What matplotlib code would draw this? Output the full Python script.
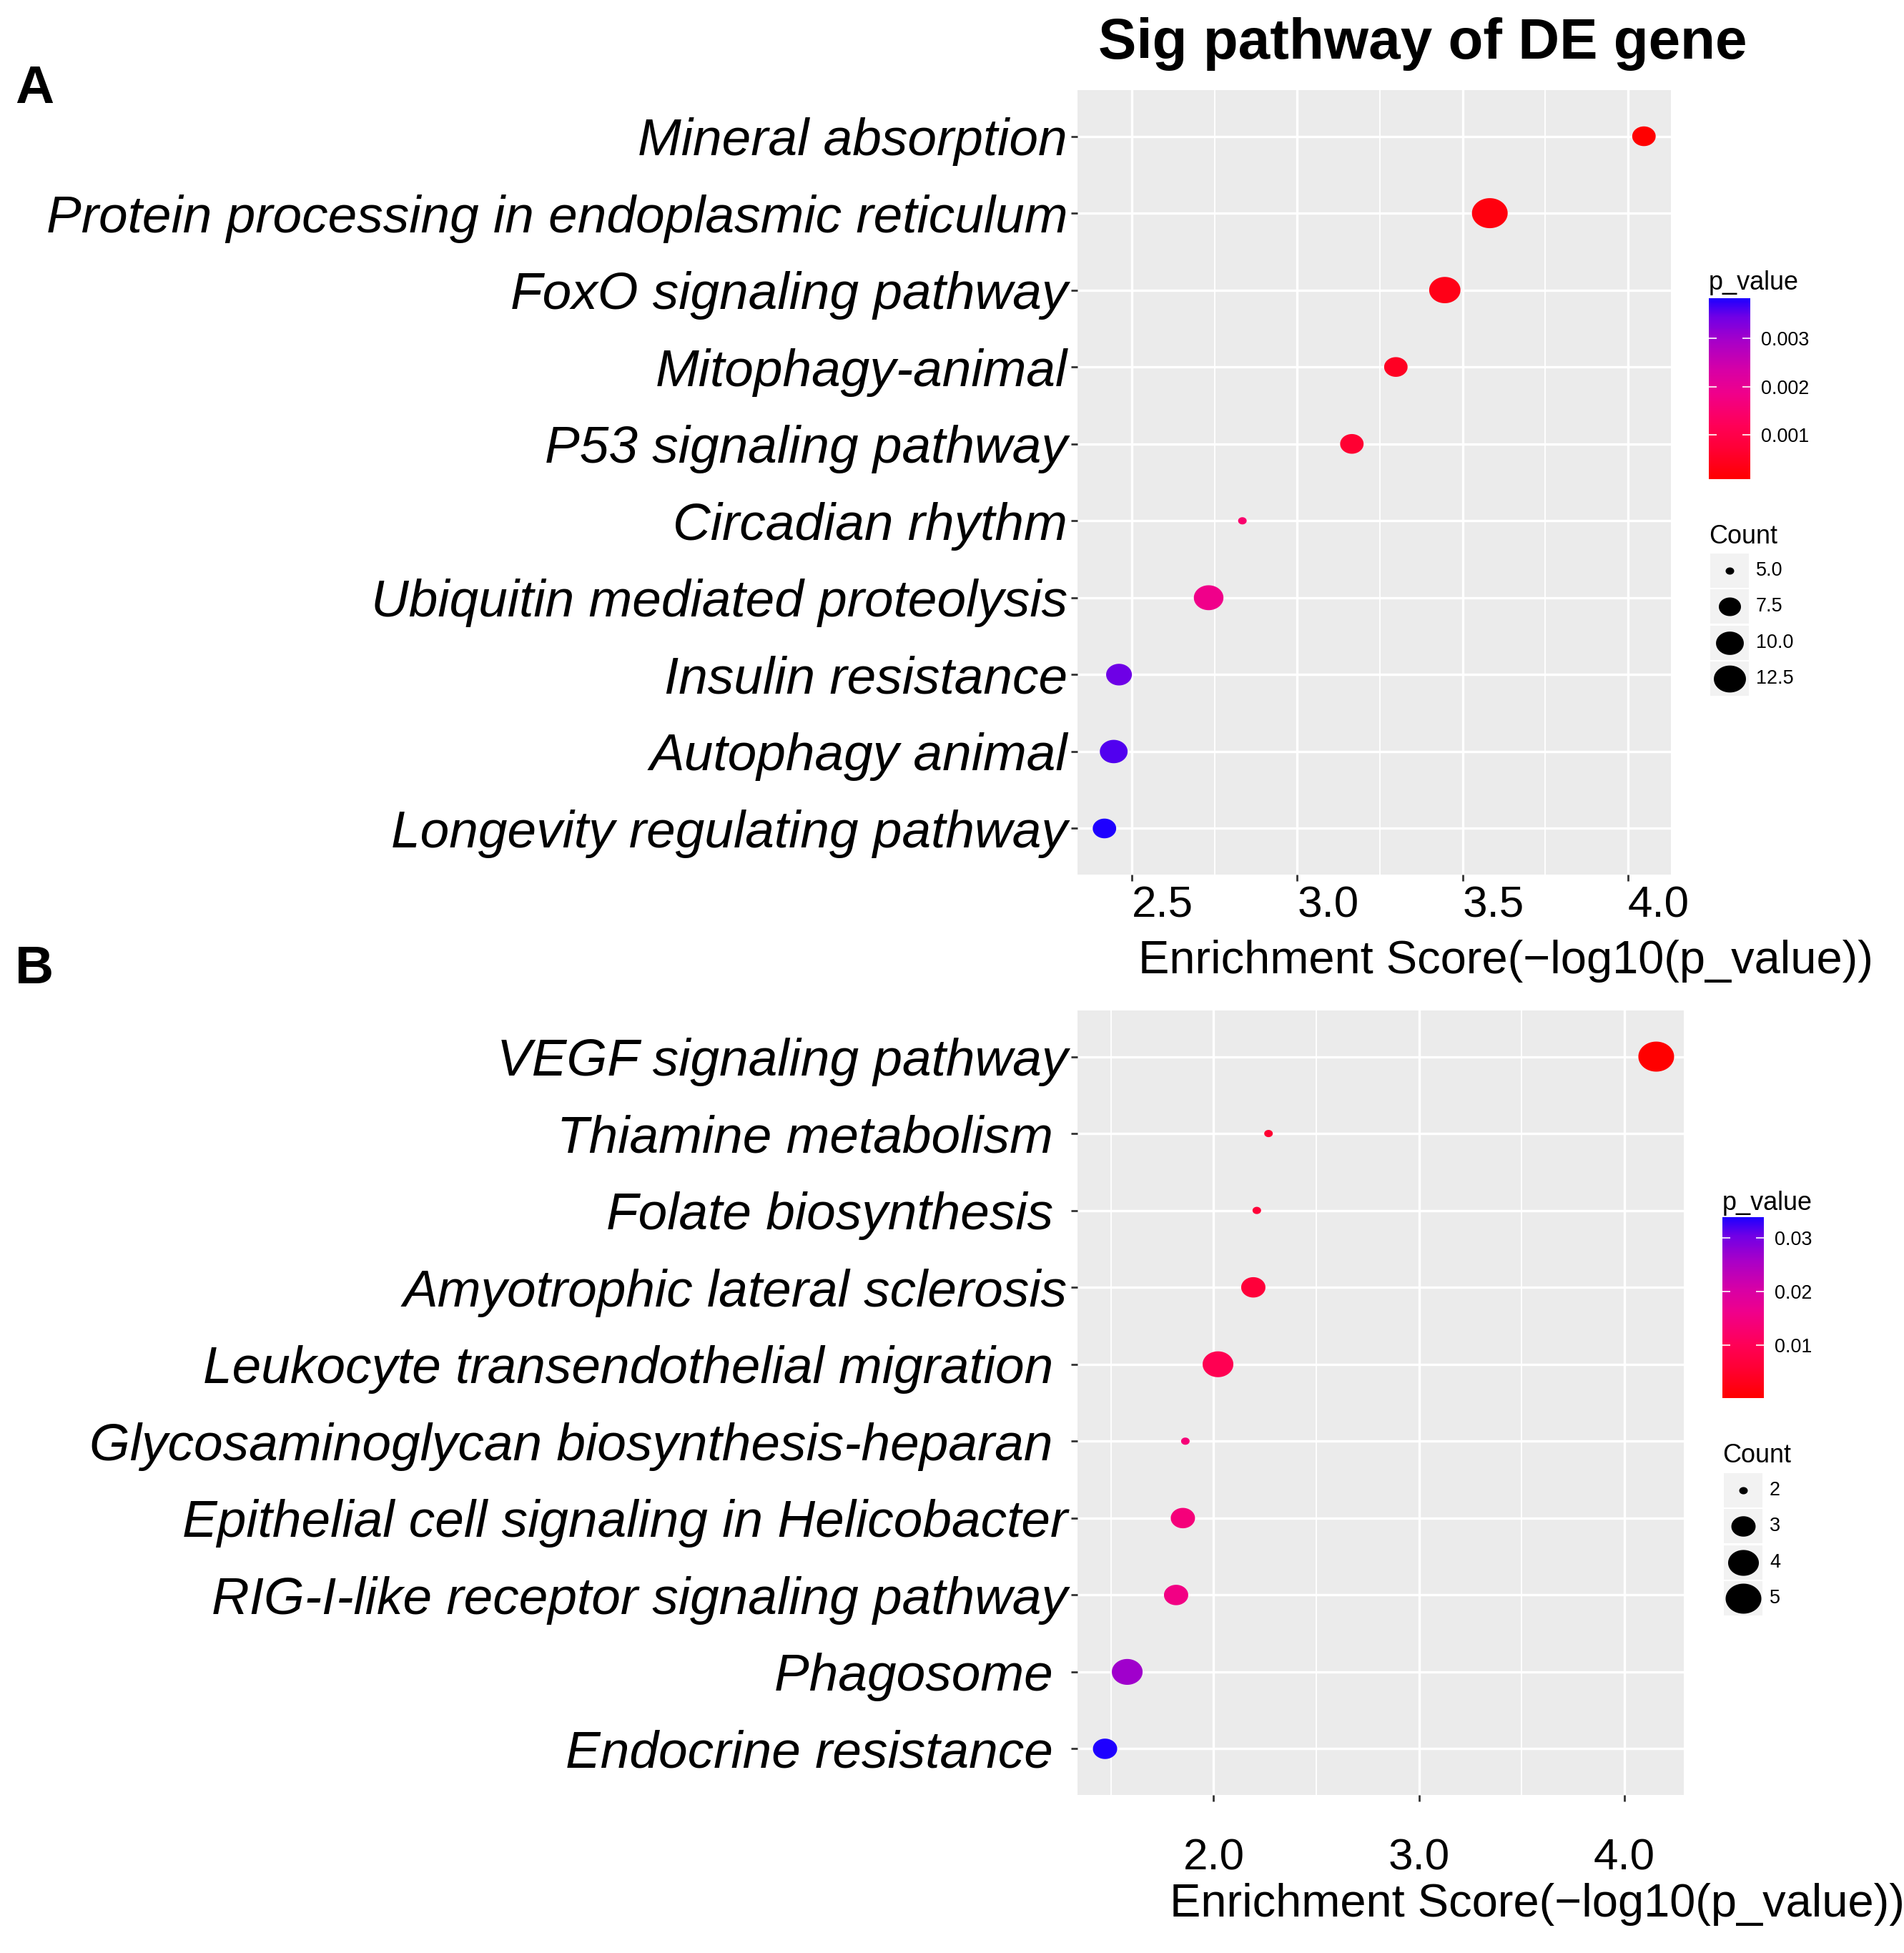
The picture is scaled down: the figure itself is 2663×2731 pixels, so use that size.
import numpy as np
import matplotlib
matplotlib.use('Agg')
import matplotlib.pyplot as plt
from matplotlib.path import Path
from matplotlib.patches import Rectangle
from matplotlib.colors import LinearSegmentedColormap, Normalize
from matplotlib.cm import ScalarMappable
from matplotlib.ticker import MultipleLocator

plt.rcParams['font.family'] = ['Liberation Sans', 'DejaVu Sans']

# ---- data (panel A) ----
terms_a = ['Mineral absorption', 'Protein processing in endoplasmic reticulum',
           'FoxO signaling pathway', 'Mitophagy-animal', 'P53 signaling pathway',
           'Circadian rhythm', 'Ubiquitin mediated proteolysis', 'Insulin resistance',
           'Autophagy animal', 'Longevity regulating pathway']
score_a = [4.048, 3.582, 3.446, 3.298, 3.165, 2.834, 2.732, 2.461, 2.445, 2.417]
count_a = [8, 15, 12, 8, 8, 5, 11, 9, 10, 8]
xticks_a = [2.5, 3.0, 3.5, 4.0]
cbar_ticks_a = [0.001, 0.002, 0.003]
size_breaks_a = [5.0, 7.5, 10.0, 12.5]

# ---- data (panel B) ----
terms_b = ['VEGF signaling pathway', 'Thiamine metabolism ', 'Folate biosynthesis ',
           'Amyotrophic lateral sclerosis', 'Leukocyte transendothelial migration ',
           'Glycosaminoglycan biosynthesis-heparan ', 'Epithelial cell signaling in Helicobacter',
           'RIG-I-like receptor signaling pathway', 'Phagosome ', 'Endocrine resistance ']
score_b = [4.155, 2.267, 2.210, 2.193, 2.021, 1.862, 1.850, 1.817, 1.579, 1.471]
count_b = [5, 2, 2, 3, 4, 2, 3, 3, 4, 3]
xticks_b = [2.0, 3.0, 4.0]
cbar_ticks_b = [0.01, 0.02, 0.03]
size_breaks_b = [2, 3, 4, 5]

W, H = 2663, 2731
PT = 0.72  # points per pixel at dpi 100

# red -> blue gradient as it looks in the figure
cmap = LinearSegmentedColormap.from_list('p_value', [
    (0.0, '#FF0000'), (0.15, '#FF0030'), (0.3, '#FF0058'), (0.47, '#F0008A'),
    (0.6, '#D800A5'), (0.76, '#A800C8'), (0.9, '#7000E6'), (1.0, '#1E00FF')])

th = np.linspace(0, 2 * np.pi, 120)
ELLIPSE = Path(np.column_stack([np.cos(th), 0.84 * np.sin(th)]), closed=True)


def dot_px(c, cmin, cmax):
    c = np.asarray(c, dtype=float)
    return 12 + 38 * np.sqrt((c - cmin) / (cmax - cmin))


fig = plt.figure(figsize=(W / 100, H / 100), dpi=100)


def px_axes(l, t, r, b):
    return fig.add_axes([l / W, 1 - b / H, (r - l) / W, (b - t) / H])


def draw_panel(box, terms, scores, counts, xticks, fmt, minor_step, left_ticks, xpad):
    ax = px_axes(*box)
    n = len(terms)
    y = np.arange(n, 0, -1)
    scores = np.array(scores)
    pvals = 10 ** (-scores)
    norm = Normalize(pvals.min(), pvals.max())
    lo, hi = scores.min(), scores.max()
    pad = 0.05 * (hi - lo)
    ax.set_xlim(lo - pad, hi + pad)
    ax.set_ylim(0.4, n + 0.6)
    ax.set_facecolor('#EBEBEB')
    for s in ax.spines.values():
        s.set_visible(False)
    ax.set_xticks(xticks)
    ax.set_xticklabels([fmt % t for t in xticks])
    ax.xaxis.set_minor_locator(MultipleLocator(minor_step))
    ax.set_yticks(y)
    ax.set_yticklabels(terms, fontstyle='italic', fontsize=73 * PT)
    ax.grid(True, which='major', color='white', lw=2.4)
    ax.grid(True, which='minor', axis='x', color='white', lw=1.3)
    ax.set_axisbelow(True)
    ax.tick_params(which='major', length=6.5, width=2, color='#333333')
    ax.tick_params(which='minor', length=0)
    ax.tick_params(axis='y', pad=3.5)
    ax.tick_params(axis='x', labelsize=62 * PT, pad=xpad)
    if left_ticks:
        plt.setp(ax.get_xticklabels(), ha='left')
    cmin, cmax = min(counts), max(counts)
    ax.scatter(scores, y, s=(dot_px(counts, cmin, cmax) * PT) ** 2, c=pvals, cmap=cmap,
               norm=norm, marker=ELLIPSE, linewidths=0, zorder=3)
    return norm, cmin, cmax


def draw_legends(norm, cmin, cmax, ticks, tfmt, breaks, bfmt, x0, title_y, bar_top, bar_bot,
                 count_y, key_y0):
    fig.text(x0 / W, 1 - title_y / H, 'p_value', fontsize=36 * PT, va='baseline')
    cax = px_axes(x0, bar_top, x0 + 58, bar_bot)
    cb = fig.colorbar(ScalarMappable(norm=norm, cmap=cmap), cax=cax, ticks=ticks)
    cb.outline.set_visible(False)
    cb.set_ticklabels([tfmt % t for t in ticks])
    cb.ax.yaxis.set_ticks_position('both')
    cb.ax.tick_params(direction='in', color='white', length=8, width=1.2,
                      labelsize=27 * PT, pad=11)
    fig.text(x0 / W, 1 - count_y / H, 'Count', fontsize=36 * PT, va='baseline')
    lax = px_axes(x0, key_y0 - 30, x0 + 200, key_y0 + 200)
    lax.set_xlim(x0, x0 + 200)
    lax.set_ylim(key_y0 + 200, key_y0 - 30)
    lax.axis('off')
    for i, b in enumerate(breaks):
        yc = key_y0 + i * 50.4
        lax.add_patch(Rectangle((x0 + 2, yc - 24), 54, 48, fc='#F2F2F2', ec='none'))
        lax.scatter([x0 + 29], [yc], s=(dot_px(b, cmin, cmax) * PT) ** 2, c='black',
                    marker=ELLIPSE, linewidths=0)
        lax.text(x0 + 66, yc, bfmt % b, va='center', fontsize=27 * PT)


norm_a, cmin_a, cmax_a = draw_panel((1507, 126, 2337, 1223), terms_a, score_a, count_a,
                                    xticks_a, '%.1f', 0.25, True, 5)
norm_b, cmin_b, cmax_b = draw_panel((1507, 1413, 2355, 2510), terms_b, score_b, count_b,
                                    xticks_b, '%.1f', 0.5, False, 37)

draw_legends(norm_a, cmin_a, cmax_a, cbar_ticks_a, '%.3f', size_breaks_a, '%.1f',
             2390, 405, 417, 670, 760, 798)
draw_legends(norm_b, cmin_b, cmax_b, cbar_ticks_b, '%.2f', size_breaks_b, '%d',
             2409, 1692, 1702, 1955, 2045, 2084)

fig.text(1592 / W, 1 - 1361 / H, 'Enrichment Score(\u2212log10(p_value))', fontsize=65 * PT,
         va='baseline')
fig.text(1636 / W, 1 - 2680 / H, 'Enrichment Score(\u2212log10(p_value))', fontsize=65 * PT,
         va='baseline')

fig.text(1990 / W, 1 - 82 / H, 'Sig pathway of DE gene', fontsize=80 * PT, fontweight='bold',
         ha='center', va='baseline')
fig.text(21 / W, 1 - 144 / H, 'A', fontsize=75 * PT, fontweight='bold', va='baseline')
fig.text(21 / W, 1 - 1375 / H, 'B', fontsize=75 * PT, fontweight='bold', va='baseline')

fig.savefig('out.png', dpi=100)
